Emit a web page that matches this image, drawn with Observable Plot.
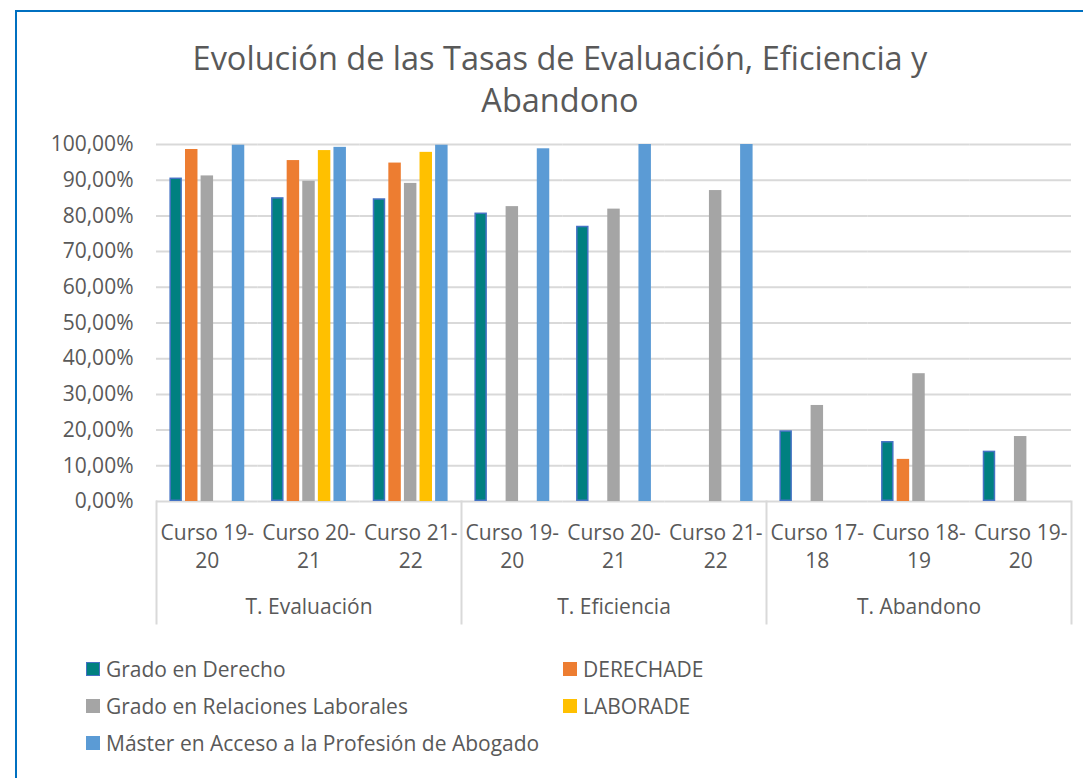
<!DOCTYPE html>
<html>
<head>
<meta charset="utf-8">
<script src="https://cdn.jsdelivr.net/npm/d3@7"></script>
<script src="https://cdn.jsdelivr.net/npm/@observablehq/plot@0.6"></script>
<style>
  html, body { margin: 0; padding: 0; background: #fff; overflow: hidden; }
  #page { position: relative; width: 1083px; height: 778px; overflow: hidden; font-family: "Open Sans", sans-serif; color: #595959; }
  #border { position: absolute; left: 15px; top: 10px; width: 1200px; height: 900px; border: 2px solid #0070C0; box-sizing: border-box; }
  #title { position: absolute; left: 0; width: 1120px; top: 37px; text-align: center; font-size: 32.5px; line-height: 42px; color: #595959; }
  #chart { position: absolute; left: 0; top: 130px; }
  #legend { position: absolute; left: 86px; top: 656px; display: grid; grid-template-columns: 477px 477px; row-gap: 11px; font-size: 21px; line-height: 26px; }
  .item { display: flex; align-items: center; }
  .sw { width: 14px; height: 14px; margin-right: 6px; box-sizing: border-box; }
</style>
</head>
<body>
<div id="page">
  <div id="border"></div>
  <div id="title">Evolución de las Tasas de Evaluación, Eficiencia y<br>Abandono</div>
  <div id="chart"></div>
  <div id="legend"></div>
</div>
<script>
// ---- data ----
const groups = ["T. Evaluación", "T. Eficiencia", "T. Abandono"];
const categoryGroup = [0, 0, 0, 1, 1, 1, 2, 2, 2];
const categories = ["Curso 19-20", "Curso 20-21", "Curso 21-22",
                    "Curso 19-20", "Curso 20-21", "Curso 21-22",
                    "Curso 17-18", "Curso 18-19", "Curso 19-20"];
const seriesNames = ["Grado en Derecho", "DERECHADE", "Grado en Relaciones Laborales", "LABORADE", "Máster en Acceso a la Profesión de Abogado"];
const derecho   = [0.906, 0.851, 0.848, 0.808, 0.771, null, 0.198, 0.168, 0.141];
const derechade = [0.986, 0.955, 0.948, null, null, null, null, 0.118, null];
const rrll      = [0.912, 0.897, 0.891, 0.826, 0.819, 0.871, 0.269, 0.358, 0.182];
const laborade  = [null, 0.983, 0.978, null, null, null, null, null, null];
const master    = [0.998, 0.992, 0.998, 0.988, 1.000, 1.000, null, null, null];
const yTicks = [0, 0.1, 0.2, 0.3, 0.4, 0.5, 0.6, 0.7, 0.8, 0.9, 1.0];
const colors = ["#008080", "#ED7D31", "#A5A5A5", "#FFC000", "#5B9BD5"];

// ---- build table ----
const seriesValues = [derecho, derechade, rrll, laborade, master];
const keys = categories.map((c, i) => groups[categoryGroup[i]] + "|" + c);
const rows = [];
categories.forEach((c, i) => seriesNames.forEach((s, j) => {
  const v = seriesValues[j][i];
  if (v != null) rows.push({key: keys[i], series: s, value: v});
}));
const groupInfo = groups.map((g, gi) => {
  const ks = keys.filter((k, i) => categoryGroup[i] === gi);
  return {name: g, first: ks[0], mid: ks[Math.floor(ks.length / 2)], last: ks[ks.length - 1]};
});
const fmt = d => (d * 100).toFixed(2).replace(".", ",") + "%";
const catLabel = k => k.split("|")[1].replace("-", "-\n");

const sepStyle = {stroke: "#D9D9D9", strokeWidth: 2, insetTop: 357, insetBottom: -122};

const chart = Plot.plot({
  width: 1083, height: 510,
  marginTop: 14, marginLeft: 156, marginRight: 12, marginBottom: 139,
  style: {fontFamily: "Open Sans", fontSize: "21px", color: "#595959", background: "transparent", overflow: "visible"},
  fx: {domain: keys, padding: 0, round: false, axis: null},
  x: {domain: seriesNames, paddingInner: 0.2, paddingOuter: 0.86, round: false, axis: null},
  y: {domain: [0, 1], axis: null},
  color: {domain: seriesNames, range: colors},
  marks: [
    Plot.gridY(yTicks, {stroke: "#D9D9D9", strokeOpacity: 1, strokeWidth: 2}),
    Plot.axisY(yTicks, {tickSize: 0, tickPadding: 23, tickFormat: fmt, fontSize: 21, fill: "#595959", label: null}),
    Plot.axisFx({anchor: "bottom", tickSize: 0, tickPadding: 18, tickFormat: catLabel, lineHeight: 1.35, fontSize: 21, fill: "#595959", label: null}),
    Plot.barY(rows.filter(d => d.series !== seriesNames[0]), {fx: "key", x: "series", y: "value", fill: "series"}),
    Plot.barY(rows.filter(d => d.series === seriesNames[0]), {fx: "key", x: "series", y: "value", fill: "series", stroke: "#4472C4", strokeWidth: 1.5, inset: 0.75}),
    ...groupInfo.map(g => Plot.frame({anchor: "left", fx: () => g.first, ...sepStyle})),
    Plot.frame({anchor: "right", fx: () => groupInfo[groupInfo.length - 1].last, ...sepStyle}),
    Plot.text(groupInfo, {fx: "mid", text: "name", frameAnchor: "bottom", dy: 112, fontSize: 21, fill: "#595959"})
  ]
});
document.getElementById("chart").appendChild(chart);

// ---- legend ----
const legend = document.getElementById("legend");
seriesNames.forEach((s, i) => {
  const item = document.createElement("div");
  item.className = "item";
  const sw = document.createElement("div");
  sw.className = "sw";
  sw.style.background = colors[i];
  if (i === 0) sw.style.border = "1.5px solid #4472C4";
  const t = document.createElement("span");
  t.textContent = s;
  item.appendChild(sw); item.appendChild(t);
  legend.appendChild(item);
});
</script>
</body>
</html>
